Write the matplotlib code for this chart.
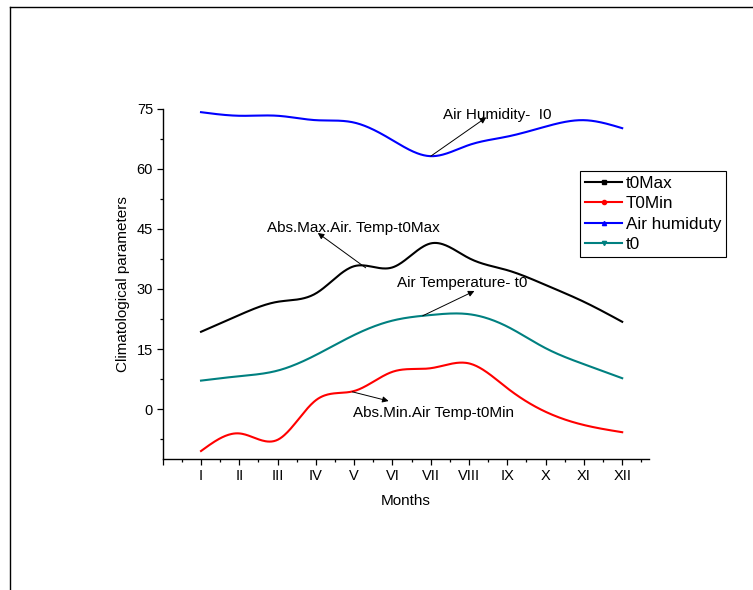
import numpy as np
import matplotlib
matplotlib.use('Agg')
import matplotlib.pyplot as plt
from matplotlib.lines import Line2D

plt.rcParams['font.family'] = ['Liberation Sans', 'DejaVu Sans']

# monthly values
months = np.arange(1, 13)
month_labels = ['I', 'II', 'III', 'IV', 'V', 'VI', 'VII', 'VIII', 'IX', 'X', 'XI', 'XII']
t0_max = [19.3, 23.5, 26.8, 28.9, 35.7, 35.4, 41.4, 37.7, 34.7, 31.0, 26.8, 21.8]
t0_min = [-10.5, -6.1, -7.7, 2.2, 4.5, 9.3, 10.2, 11.4, 5.2, -0.7, -4.0, -5.8]
air_hum = [74.2, 73.3, 73.3, 72.2, 71.6, 67.2, 63.2, 66.0, 68.1, 70.6, 72.2, 70.2]
t0 = [7.1, 8.2, 9.6, 13.5, 18.5, 22.1, 23.5, 23.7, 20.6, 15.2, 11.2, 7.7]


def spline(x, y, n=400):
    # natural cubic spline through the points (Origin "spline" connect)
    x = np.asarray(x, float)
    y = np.asarray(y, float)
    k = len(x)
    h = np.diff(x)
    A = np.zeros((k, k))
    b = np.zeros(k)
    A[0, 0] = A[-1, -1] = 1
    for i in range(1, k - 1):
        A[i, i - 1] = h[i - 1]
        A[i, i] = 2 * (h[i - 1] + h[i])
        A[i, i + 1] = h[i]
        b[i] = 6 * ((y[i + 1] - y[i]) / h[i] - (y[i] - y[i - 1]) / h[i - 1])
    M = np.linalg.solve(A, b)
    xs = np.linspace(x[0], x[-1], n)
    idx = np.clip(np.searchsorted(x, xs) - 1, 0, k - 2)
    x0, x1 = x[idx], x[idx + 1]
    hh = x1 - x0
    ys = (M[idx] * (x1 - xs) ** 3 / (6 * hh) + M[idx + 1] * (xs - x0) ** 3 / (6 * hh)
          + (y[idx] / hh - M[idx] * hh / 6) * (x1 - xs)
          + (y[idx + 1] / hh - M[idx + 1] * hh / 6) * (xs - x0))
    return xs, ys


fig = plt.figure(figsize=(7.53, 5.90), dpi=100)
ax = fig.add_axes([0.2161, 0.222, 0.6458, 0.5933])

series = [
    (t0_max, 'black', 's', 't0Max'),
    (t0_min, 'red', 'o', 'T0Min'),
    (air_hum, 'blue', '^', 'Air humiduty'),
    (t0, '#008080', 'v', 't0'),
]
handles = []
for vals, col, mk, lab in series:
    xs, ys = spline(months, vals)
    ax.plot(xs, ys, color=col, lw=1.5)
    handles.append(Line2D([], [], color=col, lw=1.5, marker=mk, markersize=3, label=lab))

ax.set_xlim(0, 12.7)
ax.set_ylim(-12.5, 75)
ax.set_xticks(np.arange(0, 13))
ax.set_xticklabels([''] + month_labels)
ax.set_xticks(np.arange(0.5, 13, 1), minor=True)
ax.set_yticks([0, 15, 30, 45, 60, 75])
ax.set_yticks([-7.5, 7.5, 22.5, 37.5, 52.5, 67.5], minor=True)
ax.tick_params(which='major', direction='out', length=4.5, width=0.9, labelsize=10.5, pad=2.5)
ax.tick_params(which='minor', direction='out', length=2.4, width=0.9)
for s in ['top', 'right']:
    ax.spines[s].set_visible(False)
for s in ['left', 'bottom']:
    ax.spines[s].set_linewidth(1.0)

ax.set_xlabel('Months', fontsize=11, labelpad=8)
ax.set_ylabel('Climatological parameters', fontsize=11, labelpad=5)

# annotations: arrow from the curve towards the text
arr = dict(arrowstyle='-|>', color='black', lw=0.7, mutation_scale=9, shrinkA=0, shrinkB=0)
ax.annotate('', xy=(8.45, 72.9), xytext=(7, air_hum[6]), arrowprops=arr)
ax.text(7.33, 73.5, 'Air Humidity-  I0', fontsize=11, ha='left', va='center')
ax.annotate('', xy=(4.05, 44.0), xytext=(5.3, 35.3), arrowprops=arr)
ax.text(2.72, 45.25, 'Abs.Max.Air. Temp-t0Max', fontsize=11, ha='left', va='center')
ax.annotate('', xy=(8.14, 29.5), xytext=(6.79, 23.3), arrowprops=arr)
ax.text(6.13, 31.5, 'Air Temperature- t0', fontsize=11, ha='left', va='center')
ax.annotate('', xy=(5.9, 2.0), xytext=(4.95, 4.3), arrowprops=arr)
ax.text(4.96, -1.0, 'Abs.Min.Air Temp-t0Min', fontsize=11, ha='left', va='center')

leg = fig.legend(handles=handles, loc='upper left', bbox_to_anchor=(580 / 753, 1 - 171 / 590),
                 fontsize=12.3, frameon=True, fancybox=False, framealpha=1, edgecolor='black',
                 handlelength=2.2, handletextpad=0.2, labelspacing=0.32, borderpad=0.28,
                 borderaxespad=0)
leg.get_frame().set_linewidth(0.8)

# page frame lines
fig.add_artist(Line2D([10 / 753, 1], [1 - 7 / 590, 1 - 7 / 590], transform=fig.transFigure, color='black', lw=1))
fig.add_artist(Line2D([10 / 753, 10 / 753], [0, 1 - 7 / 590], transform=fig.transFigure, color='black', lw=1))

fig.savefig('out.png', dpi=100)
